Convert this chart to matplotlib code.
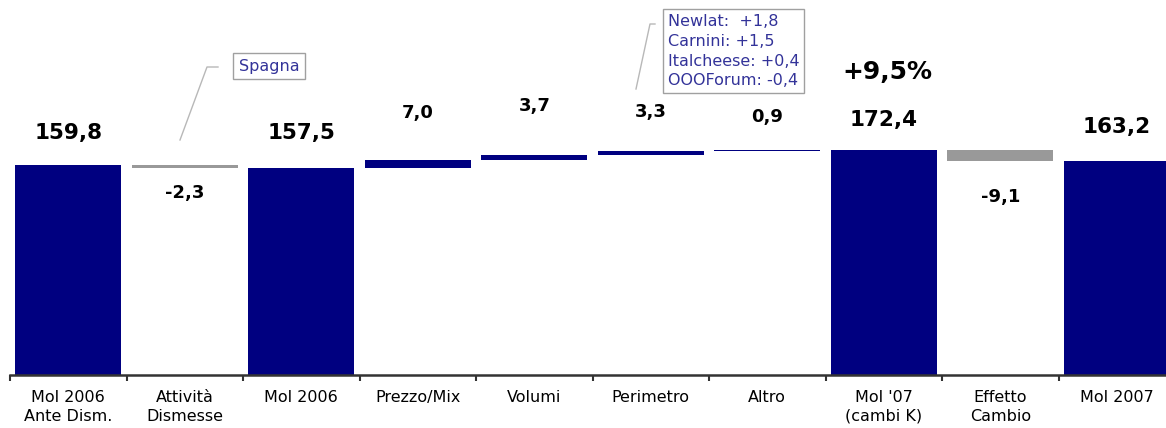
import numpy as np
import matplotlib
matplotlib.use('Agg')
import matplotlib.pyplot as plt
from matplotlib.lines import Line2D

# ============================================================
# Dati: bridge MOL 2006 -> 2007
# ============================================================
categories = ['Mol 2006\nAnte Dism.', 'Attività\nDismesse', 'Mol 2006', 'Prezzo/Mix',
              'Volumi', 'Perimetro', 'Altro', "Mol '07\n(cambi K)", 'Effetto\nCambio', 'Mol 2007']
values = [159.8, -2.3, 157.5, 7.0, 3.7, 3.3, 0.9, 172.4, -9.1, 163.2]
is_total = [True, False, True, False, False, False, False, True, False, True]
growth_label = '+9,5%'
spagna_note = 'Spagna'
perimetro_note = ['Newlat:  +1,8', 'Carnini: +1,5', 'Italcheese: +0,4', 'OOOForum: -0,4']

# offset etichette (pixel) rispetto al bordo della barra
label_offsets = [32, 25, 35, 47, 49, 39, 33, 30, 36, 34]

W, H = 1166, 428
NAVY = '#000080'
GREY = '#999999'
YMIN, YMAX = -10.8, 294.5

fig = plt.figure(figsize=(W / 100, H / 100), dpi=100)
ax = fig.add_axes([10 / W, (H - 375) / H, 1165 / W, 375 / H])
ax.set_xlim(-0.5, 9.5)
ax.set_ylim(YMIN, YMAX)

def fmt(v):
    return f'{v:.1f}'.replace('.', ',')

level = 0.0
for i, (v, tot) in enumerate(zip(values, is_total)):
    if tot:
        bottom, height = YMIN, v - YMIN
        level = v
        color = NAVY
    else:
        bottom = level if v >= 0 else level + v
        height = abs(v)
        level += v
        color = NAVY if v >= 0 else GREY
    ax.bar(i, height, bottom=bottom, width=0.91, color=color, linewidth=0, zorder=2)

    if v >= 0:
        ax.annotate(fmt(v), (i, bottom + height), xytext=(0, label_offsets[i]),
                    textcoords='offset pixels', ha='center', va='center',
                    fontsize=15.5 if tot else 13, fontweight='bold', color='black')
    else:
        ax.annotate(fmt(v), (i, bottom), xytext=(0, -label_offsets[i]),
                    textcoords='offset pixels', ha='center', va='center',
                    fontsize=13, fontweight='bold', color='black')

# assi
for s in ['left', 'right', 'top']:
    ax.spines[s].set_visible(False)
ax.spines['bottom'].set_color('#333333')
ax.spines['bottom'].set_linewidth(1.8)
ax.set_yticks([])
ax.set_xticks(range(len(categories)))
ax.set_xticklabels(categories, fontsize=11.5, linespacing=1.3)
ax.tick_params(axis='x', which='major', length=0, pad=11)
ax.set_xticks(np.arange(-0.5, 10, 1.0), minor=True)
ax.tick_params(axis='x', which='minor', length=4, width=1.5, color='#333333')

def px(x, y):
    return x / W, 1 - y / H

# +9,5%
fig.text(*px(887, 72), growth_label, ha='center', va='center', fontsize=18,
         fontweight='bold', color='black')

# callout Spagna
fig.text(*px(269, 66), spagna_note, ha='center', va='center', fontsize=11.5,
         color='#333399',
         bbox=dict(boxstyle='square,pad=0.35', fc='white', ec='#a0a0a0', lw=1))
xs, ys = zip(px(180, 140), px(207, 67), px(218, 67))
fig.add_artist(Line2D(xs, ys, transform=fig.transFigure, color='#b8b8b8', lw=1))

# callout Perimetro
fig.text(*px(668, 14), '\n'.join(perimetro_note), ha='left', va='top', fontsize=11.5,
         color='#333399', linespacing=1.4,
         bbox=dict(boxstyle='square,pad=0.3', fc='white', ec='#a0a0a0', lw=1))
xs, ys = zip(px(636, 89), px(650, 24), px(655, 24))
fig.add_artist(Line2D(xs, ys, transform=fig.transFigure, color='#b8b8b8', lw=1))

plt.savefig('out.png', dpi=100)
